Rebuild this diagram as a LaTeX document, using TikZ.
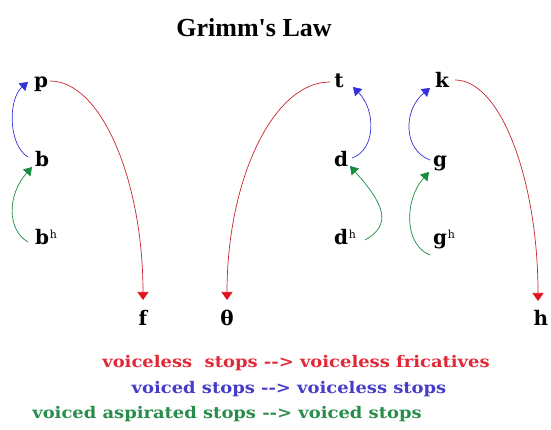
\documentclass[tikz,border=0pt]{standalone}
\usepackage{fontspec}
\setmainfont{DejaVu Serif}
\newfontfamily\titlefont{Liberation Serif}
\newfontfamily\legfont[FakeStretch=1.12]{DejaVu Serif}
\usetikzlibrary{arrows.meta}
\definecolor{rred}{RGB}{200,35,45}
\definecolor{rhead}{RGB}{225,20,30}
\definecolor{bblue}{RGB}{50,50,220}
\definecolor{ggreen}{RGB}{25,140,65}
\definecolor{lred}{RGB}{225,40,55}
\definecolor{lblue}{RGB}{70,60,200}
\definecolor{lgreen}{RGB}{40,140,75}
\tikzset{
  phon/.style={font=\fontsize{20}{20}\selectfont\bfseries, inner sep=0pt, anchor=base},
  legend/.style={font=\legfont\fontsize{16}{16}\selectfont\bfseries, inner sep=0pt, anchor=base},
  shift arrow/.style={-{Triangle[length=8pt,width=10pt]}, line width=0.7pt},
  red arrow/.style={line width=0.7pt, rred, -{Triangle[length=8pt,width=11pt,color=rhead]}},
}
\newcommand{\arr}{-{}-{}>}
\newcommand{\asp}{\rlap{\kern1pt\raisebox{6.5pt}{\fontsize{11}{11}\selectfont\mdseries h}}}
\begin{document}
\begin{tikzpicture}[x=1pt,y=1pt]
\useasboundingbox (0,0) rectangle (551,430);
\node[anchor=base, font=\titlefont\fontsize{26}{26}\selectfont\bfseries] (title) at (254,393) {Grimm's Law};
% letters
\node[phon] (p) at (41,342) {p};
\node[phon] (b) at (42,263) {b};
\node[phon] (bh) at (42,185) {b\asp};
\node[phon] (t) at (339,342) {t};
\node[phon] (d) at (341,263) {d};
\node[phon] (dh) at (341,185) {d\asp};
\node[phon] (k) at (442,342) {k};
\node[phon] (g) at (440,263) {g};
\node[phon] (gh) at (440,185) {g\asp};
\node[phon] (f) at (143,104) {f};
\node[phon] (th) at (227,104) {θ};
\node[phon] (h) at (541,104) {h};
% red: voiceless stops -> voiceless fricatives
\draw[red arrow] ([shift={(9,7)}]p.base) .. controls +(51,0) and +(0,120) .. ([shift={(0,26)}]f.base);
\draw[red arrow] ([shift={(-9,6)}]t.base) .. controls +(-57,0) and +(0,120) .. ([shift={(0,26)}]th.base);
\draw[red arrow] ([shift={(13,8)}]k.base) .. controls +(46,0) and +(0,120) .. ([shift={(-3,25)}]h.base);
% blue: voiced stops -> voiceless stops
\draw[shift arrow, bblue] ([shift={(-14,10)}]b.base) .. controls +(-20,12) and +(-20,-17) .. ([shift={(-13,6)}]p.base);
\draw[shift arrow, bblue] ([shift={(11,9)}]d.base) .. controls +(24,8) and +(23,-23) .. ([shift={(14,1)}]t.base);
\draw[shift arrow, bblue] ([shift={(-10,7)}]g.base) .. controls +(-27,10) and +(-27,-22) .. ([shift={(-12,0)}]k.base);
% green: voiced aspirated stops -> voiced stops
\draw[shift arrow, ggreen] ([shift={(-14,3)}]bh.base) .. controls +(-21,12) and +(-25,-28) .. ([shift={(-10,0)}]b.base);
\draw[shift arrow, ggreen] ([shift={(24,5)}]dh.base) .. controls +(27,15) and +(35,-39) .. ([shift={(9,1)}]d.base);
\draw[shift arrow, ggreen] ([shift={(-10,-10)}]gh.base) .. controls +(-26,10) and +(-25,-28) .. ([shift={(-11,-5)}]g.base);
% legend
\node[legend, text=lred] (l1) at (296,62) {voiceless\ \ stops \arr{} voiceless fricatives};
\node[legend, text=lblue] (l2) at (289,36) {voiced stops \arr{} voiceless stops};
\node[legend, text=lgreen] (l3) at (227,11) {voiced aspirated stops \arr{} voiced stops};
\end{tikzpicture}
\end{document}
